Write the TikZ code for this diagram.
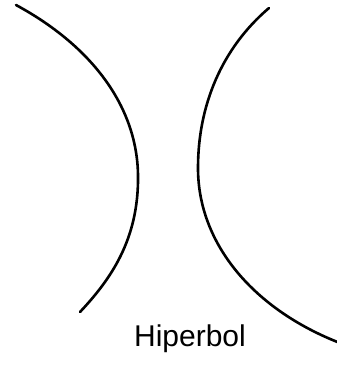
\documentclass[tikz,border=0pt]{standalone}
\usepackage{fontspec}
\setmainfont{Liberation Sans}
\usetikzlibrary{positioning}

\begin{document}
\begin{tikzpicture}[x=1pt, y=-1pt, branch/.style={line width=2.6pt, line cap=round}]
      \useasboundingbox (0,0) rectangle (337,365);
      \draw[branch] (16,5) .. controls (90,45) and (137,105) .. (138,175) .. controls (139,240) and (110,280) .. (80,312);
      \draw[branch] (269,8) .. controls (222,48) and (198,105) .. (198,168) .. controls (198,245) and (255,310) .. (340,343);
      \node[anchor=base, inner sep=0pt, font=\fontsize{30}{32}\selectfont] (lbl) at (190,346) {Hiperbol};
    \end{tikzpicture}
\end{document}
